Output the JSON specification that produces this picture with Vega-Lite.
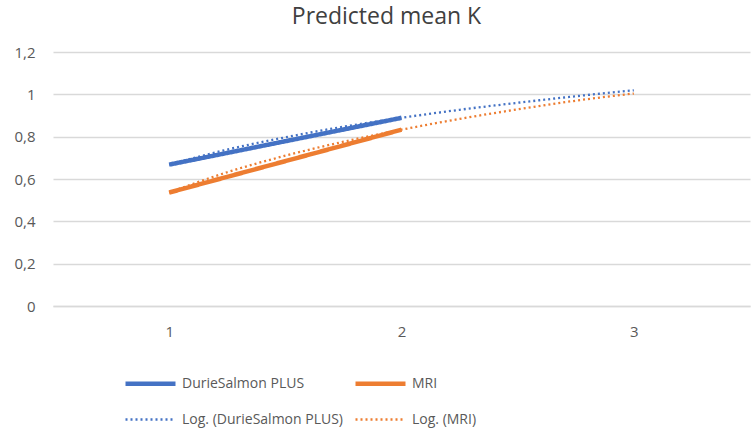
{
  "$schema": "https://vega.github.io/schema/vega-lite/v6.json",
  "width": 697,
  "height": 254,
  "autosize": "none",
  "padding": {"left": 53, "top": 52, "right": 5, "bottom": 126},
  "background": "white",
  "title": {"text": "Predicted mean K", "fontSize": 23, "font": "Open Sans", "fontWeight": "normal", "color": "#404040", "dx": -15, "offset": 16},
  "config": {
    "view": {"stroke": null},
    "axis": {"labelFont": "Open Sans", "labelFontSize": 15, "labelColor": "#595959", "ticks": false, "title": null},
    "legend": {"labelFont": "Open Sans", "labelFontSize": 14, "labelColor": "#595959", "labelLimit": 300}
  },
  "data": {
    "values": [
      {"series": "DurieSalmon PLUS", "x": 1, "y": 0.668},
      {"series": "DurieSalmon PLUS", "x": 2, "y": 0.889},
      {"series": "MRI", "x": 1, "y": 0.536},
      {"series": "MRI", "x": 2, "y": 0.833},
      {"series": "Log. (DurieSalmon PLUS)", "x": 1, "y": 0.668},
      {"series": "Log. (DurieSalmon PLUS)", "x": 1.25, "y": 0.739},
      {"series": "Log. (DurieSalmon PLUS)", "x": 1.5, "y": 0.797},
      {"series": "Log. (DurieSalmon PLUS)", "x": 1.75, "y": 0.847},
      {"series": "Log. (DurieSalmon PLUS)", "x": 2, "y": 0.889},
      {"series": "Log. (DurieSalmon PLUS)", "x": 2.25, "y": 0.927},
      {"series": "Log. (DurieSalmon PLUS)", "x": 2.5, "y": 0.960},
      {"series": "Log. (DurieSalmon PLUS)", "x": 2.75, "y": 0.991},
      {"series": "Log. (DurieSalmon PLUS)", "x": 3, "y": 1.019},
      {"series": "Log. (MRI)", "x": 1, "y": 0.536},
      {"series": "Log. (MRI)", "x": 1.25, "y": 0.632},
      {"series": "Log. (MRI)", "x": 1.5, "y": 0.710},
      {"series": "Log. (MRI)", "x": 1.75, "y": 0.776},
      {"series": "Log. (MRI)", "x": 2, "y": 0.833},
      {"series": "Log. (MRI)", "x": 2.25, "y": 0.884},
      {"series": "Log. (MRI)", "x": 2.5, "y": 0.929},
      {"series": "Log. (MRI)", "x": 2.75, "y": 0.970},
      {"series": "Log. (MRI)", "x": 3, "y": 1.004}
    ]
  },
  "mark": {"type": "line", "strokeCap": "butt", "interpolate": "monotone"},
  "encoding": {
    "x": {
      "field": "x", "type": "quantitative",
      "scale": {"domain": [0.5, 3.5], "nice": false, "zero": false},
      "axis": {"values": [1, 2, 3], "grid": false, "domainColor": "#D9D9D9", "domainWidth": 1.3, "labelPadding": 18}
    },
    "y": {
      "field": "y", "type": "quantitative",
      "scale": {"domain": [0, 1.2], "nice": false},
      "axis": {"values": [0, 0.2, 0.4, 0.6, 0.8, 1, 1.2], "domain": false, "gridColor": "#D9D9D9", "gridWidth": 1.3, "labelPadding": 18,
        "labelExpr": "replace(format(datum.value, '.1~f'), '.', ',')"}
    },
    "color": {
      "field": "series", "type": "ordinal",
      "scale": {
        "domain": ["DurieSalmon PLUS", "MRI", "Log. (DurieSalmon PLUS)", "Log. (MRI)"],
        "range": ["#4472C4", "#ED7D31", "#4472C4", "#ED7D31"]
      },
      "legend": {"orient": "none", "direction": "horizontal", "legendX": 70, "legendY": 304, "title": null, "columns": 2, "symbolType": "stroke", "symbolSize": 2500, "labelOffset": 4, "columnPadding": 3, "rowPadding": -15}
    },
    "strokeDash": {
      "field": "series", "type": "ordinal",
      "scale": {
        "domain": ["DurieSalmon PLUS", "MRI", "Log. (DurieSalmon PLUS)", "Log. (MRI)"],
        "range": [[1, 0], [1, 0], [2, 3], [2, 3]]
      }
    },
    "strokeWidth": {
      "field": "series", "type": "ordinal",
      "scale": {
        "type": "ordinal",
        "domain": ["DurieSalmon PLUS", "MRI", "Log. (DurieSalmon PLUS)", "Log. (MRI)"],
        "range": [4.5, 4.5, 2.3, 2.3]
      }
    },
    "order": {"field": "x"}
  }
}
